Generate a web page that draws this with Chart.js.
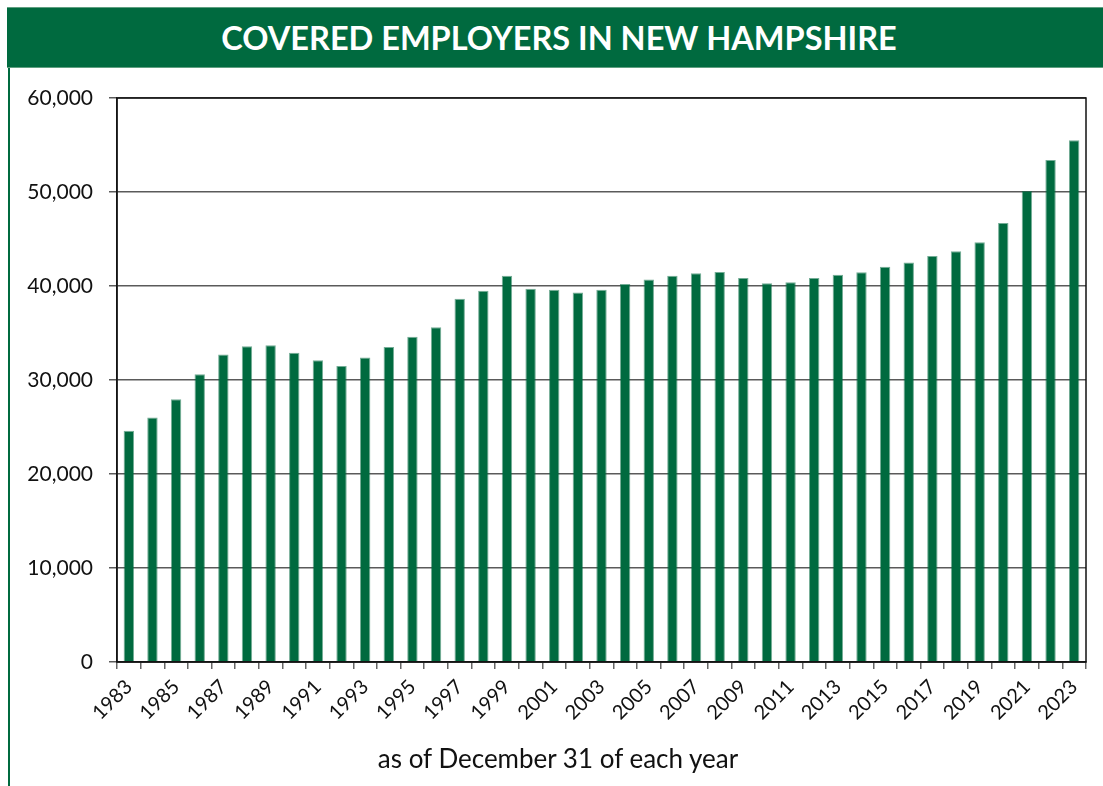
<!DOCTYPE html>
<html>
<head>
<meta charset="utf-8">
<script src="https://cdn.jsdelivr.net/npm/chart.js@4.4.1/dist/chart.umd.min.js"></script>
<style>
  html, body { margin: 0; padding: 0; background: #fff; }
  body { width: 1103px; height: 786px; position: relative; overflow: hidden; font-family: Lato, 'Open Sans', sans-serif; }
  .header {
    position: absolute; left: 7px; top: 7px; width: 1096px; height: 61px;
    background: #006a3f; border-top: 1px solid #5f9f80; border-bottom: 1px solid #5f9f80; box-sizing: border-box;
    color: #fff; font-weight: bold; font-size: 32.5px; line-height: 59px; text-align: center;
  }
  .header span { position: absolute; left: 0; width: 1104px; text-align: center; }
  .leftline { position: absolute; left: 8px; top: 68px; width: 2px; height: 718px; background: #006a3f; }
  #wrap { position: absolute; left: 0; top: 68px; width: 1103px; height: 718px; }
  .xtitle { position: absolute; left: 258px; width: 600px; top: 742px; text-align: center; font-size: 26px; color: #111; }
</style>
</head>
<body>
<div class="header"><span>COVERED EMPLOYERS IN NEW HAMPSHIRE</span></div>
<div class="leftline"></div>
<div id="wrap"><canvas id="chart" width="1103" height="718"></canvas></div>
<div class="xtitle">as of December 31 of each year</div>
<script>
// ── Data ─────────────────────────────────────────────────────────
const YEARS = [
  '1983', '1984', '1985', '1986', '1987', '1988', '1989', '1990', '1991', '1992',
  '1993', '1994', '1995', '1996', '1997', '1998', '1999', '2000', '2001', '2002',
  '2003', '2004', '2005', '2006', '2007', '2008', '2009', '2010', '2011', '2012',
  '2013', '2014', '2015', '2016', '2017', '2018', '2019', '2020', '2021', '2022', '2023'
];

const EMPLOYERS = [
  24600, 26000, 27950, 30600, 32700, 33600, 33700, 32900, 32100, 31500,
  32400, 33500, 34600, 35600, 38650, 39500, 41100, 39700, 39600, 39300,
  39600, 40200, 40700, 41100, 41350, 41500, 40850, 40300, 40400, 40850,
  41200, 41450, 42050, 42500, 43200, 43700, 44650, 46700, 50100, 53400, 55500
];

const Y_MIN = 0, Y_MAX = 60000, Y_STEP = 10000;

const GREEN = '#006a3f';

// frame round the plot area (top + right edges like the original)
const plotFrame = {
  id: 'plotFrame',
  afterDraw(chart) {
    const { ctx, chartArea: a } = chart;
    ctx.save();
    ctx.strokeStyle = '#111';
    ctx.lineWidth = 1.5;
    ctx.strokeRect(a.left, a.top, a.right - a.left, a.bottom - a.top);
    ctx.restore();
  }
};

const ctx = document.getElementById('chart').getContext('2d');
new Chart(ctx, {
  type: 'bar',
  data: {
    labels: YEARS,
    datasets: [{
      label: 'Covered employers',
      data: EMPLOYERS,
      backgroundColor: GREEN,
      borderColor: 'rgba(0,106,63,0.55)',
      borderWidth: 1,
      barPercentage: 0.44,
      categoryPercentage: 1
    }]
  },
  options: {
    responsive: false,
    devicePixelRatio: 1,
    animation: false,
    layout: { padding: { top: 30, right: 17, bottom: 0, left: 0 } },
    plugins: { legend: { display: false }, tooltip: { enabled: false } },
    scales: {
      x: {
        offset: true,
        grid: { offset: true, drawOnChartArea: false, tickLength: 7, color: '#666', lineWidth: 1.5 },
        border: { color: '#222', width: 1.5 },
        ticks: {
          autoSkip: false, maxRotation: 45, minRotation: 45, padding: 6,
          color: '#111', font: { family: 'Lato', size: 20 },
          callback: (v, i) => i % 2 === 0 ? YEARS[i] : ''
        },
        afterFit: s => { s.height = 124; }
      },
      y: {
        min: Y_MIN, max: Y_MAX,
        grid: { color: '#5a5a5a', lineWidth: 1.5, tickLength: 8 },
        border: { color: '#222', width: 1.5 },
        ticks: {
          stepSize: Y_STEP, padding: 16, color: '#111',
          font: { family: 'Lato', size: 21 },
          callback: v => v.toLocaleString('en-US')
        },
        afterFit: s => { s.width = 117; }
      }
    }
  },
  plugins: [plotFrame]
});
</script>
</body>
</html>
